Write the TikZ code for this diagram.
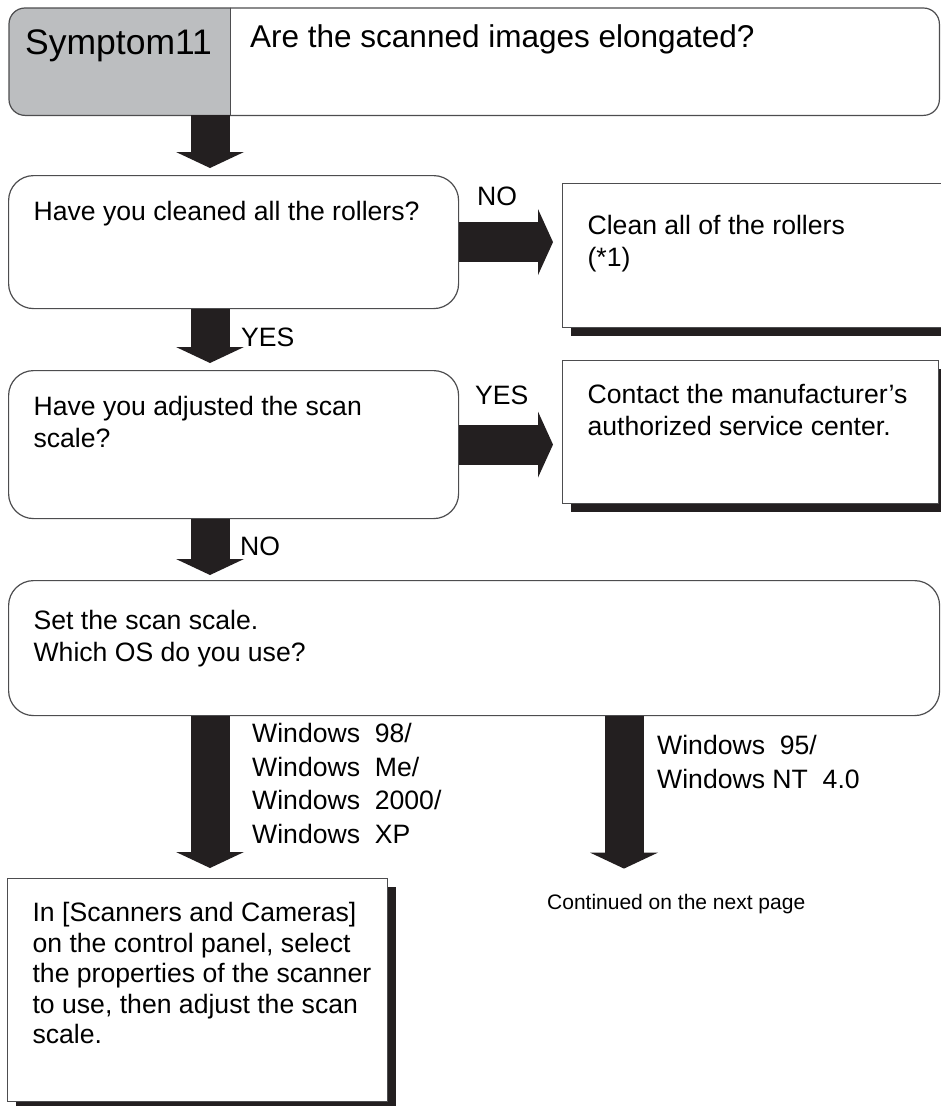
\documentclass[tikz,border=0pt]{standalone}
\usepackage{fontspec}
\setmainfont{Liberation Sans}
\usepackage{xcolor}
\definecolor{symgray}{HTML}{BCBEC0}
\definecolor{flowblack}{HTML}{231F20}
\definecolor{edgegray}{HTML}{4D4D4F}
\usetikzlibrary{arrows.meta,positioning,shadows,calc}
\newcommand{\boxtext}[3]{\parbox[t][#2][t]{#1}{\raggedright\strut #3}}
\tikzset{
  bodyfont/.style={font=\fontsize{26.6}{32.5}\selectfont},
  qbox/.style={
    draw=edgegray, line width=1.2pt, fill=white, rounded corners=25pt,
    anchor=north west, inner xsep=25pt, inner ysep=22pt, bodyfont
  },
  ansbox/.style={
    draw=edgegray, line width=1.2pt, fill=white,
    anchor=north west, inner xsep=25pt, inner ysep=22pt, bodyfont,
    general shadow={fill=flowblack, shadow xshift=8pt, shadow yshift=-8pt}
  },
  headpart/.style={anchor=north west, inner sep=0pt, minimum height=107pt},
  headline/.style={draw=edgegray, line width=1.2pt, rounded corners=16pt},
  flowdown/.style={draw=flowblack, line width=39pt,
    -{Triangle[width=68pt,length=16pt,line width=0pt]}},
  flowright/.style={draw=flowblack, line width=40pt,
    -{Triangle[width=66pt,length=15pt,line width=0pt]}},
  flowlabel/.style={anchor=base west, inner sep=0pt, bodyfont, align=left},
  oslabel/.style={flowlabel, font=\fontsize{26.6}{33.5}\selectfont}
}
\begin{document}
\begin{tikzpicture}[x=1pt, y=-1pt]
  \useasboundingbox (0,0) rectangle (940,1106);

  \node[headpart, minimum width=221pt] (sym)  at (9,8)   {};
  \node[headpart, minimum width=709pt] (ques) at (230,8) {};
  \filldraw[headline, fill=symgray]
    (sym.north east) -- (sym.north west) -- (sym.south west) -- (sym.south east);
  \draw[headline]
    (ques.north west) -- (ques.north east) -- (ques.south east) -- (ques.south west);
  \draw[edgegray, line width=1.2pt] (sym.north east) -- (sym.south east);
  \node[anchor=base west, inner sep=0pt, font=\fontsize{35.5}{40}\selectfont]
    (symtext) at (25,54) {Symptom11};
  \node[anchor=base west, inner sep=0pt, font=\fontsize{31.5}{38}\selectfont]
    (questext) at (250,47) {Are the scanned images elongated?};

  \node[qbox] (q1) at (8,175)
    {\boxtext{400pt}{89pt}{Have you cleaned all the rollers?}};
  \node[ansbox, inner ysep=28pt] (fix1) at (562,183)
    {\boxtext{333pt}{88pt}{Clean all of the rollers\\(*1)}};
  \node[qbox] (q2) at (8,370)
    {\boxtext{400pt}{104pt}{Have you adjusted the scan\\scale?}};
  \node[ansbox, inner ysep=20pt] (fix2) at (562,360)
    {\boxtext{326pt}{103pt}{Contact the manufacturer's\\authorized service center.}};
  \node[qbox, inner ysep=26pt] (q3) at (8,580)
    {\boxtext{881pt}{83pt}{Set the scan scale.\\Which OS do you use?}};
  \node[ansbox, font=\fontsize{26.6}{30.5}\selectfont] (fix3) at (7,878)
    {\boxtext{330pt}{179pt}{In [Scanners and Cameras]\\on the control panel, select\\\mbox{the properties of the scanner}\\to use, then adjust the scan\\scale.}};
  \node[anchor=base west, inner sep=0pt, font=\fontsize{21}{26}\selectfont]
    (cont) at (547,909) {Continued on the next page};

  \coordinate (lane)  at (210,0);
  \coordinate (lane2) at (624,0);
  \draw[flowdown, shorten >=7pt]  (lane |- sym.south) -- (lane |- q1.north);
  \draw[flowdown, shorten >=7pt]  (lane |- q1.south)  -- (lane |- q2.north);
  \draw[flowdown, shorten >=5pt]  (lane |- q2.south)  -- (lane |- q3.north);
  \draw[flowdown, shorten >=10pt] (lane |- q3.south)  -- (lane |- fix3.north);
  \draw[flowdown, shorten >=25pt] (lane2 |- q3.south) -- (lane2 |- cont.north);
  \draw[flowright, shorten >=9pt] (q1.east) -- (q1.east -| fix1.west);
  \draw[flowright, shorten >=9pt] (q2.east) -- (q2.east -| fix2.west);

  \node[flowlabel] (no1)  at (477,205.5) {NO};
  \node[flowlabel] (yes1) at (241,346)   {YES};
  \node[flowlabel] (yes2) at (475,404.5) {YES};
  \node[flowlabel] (no2)  at (240,555.5) {NO};
  \node[oslabel] (os1)  at (252,843)
    {Windows~~98/\\Windows~~Me/\\Windows~~2000/\\Windows~~XP};
  \node[oslabel] (os2)  at (657,788)
    {Windows~~95/\\Windows NT~~4.0};
\end{tikzpicture}
\end{document}
